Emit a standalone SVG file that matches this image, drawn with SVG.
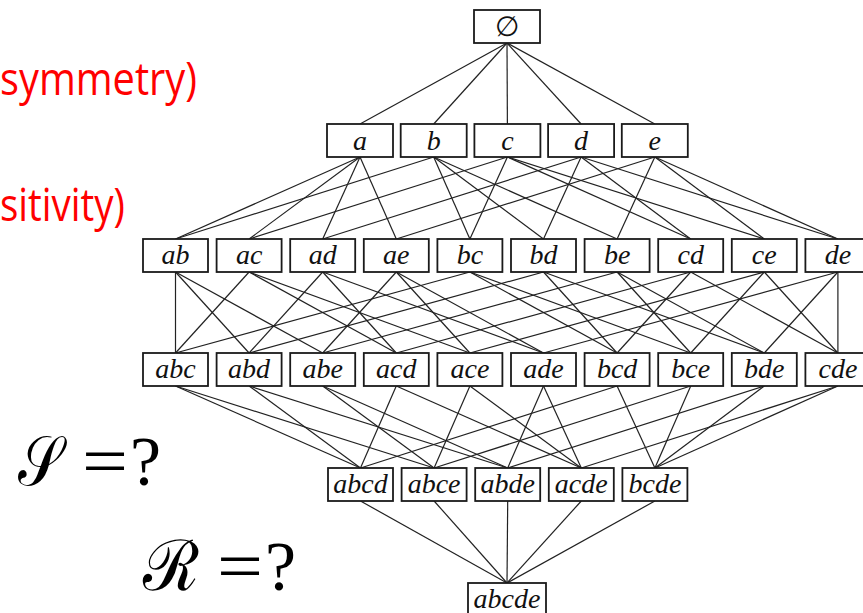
<svg xmlns="http://www.w3.org/2000/svg" width="863" height="613" viewBox="0 0 863 613">
<style>
.box rect{fill:#fff;stroke:#1a1a1a;stroke-width:1.8}
.box text{font-family:"Liberation Serif","DejaVu Serif",serif;font-style:italic;font-size:28px;text-anchor:middle;fill:#111}
#edges line{stroke:#222;stroke-width:1.2}
.red{font-family:"Open Sans","Liberation Sans",sans-serif;font-size:45px;fill:#ff0000}
.math{font-family:"Liberation Serif","DejaVu Serif",serif;font-size:70px;fill:#000}
</style>
<rect width="863" height="613" fill="#fff"/>
<text class="red" x="0" y="95" textLength="197" lengthAdjust="spacingAndGlyphs">symmetry)</text>
<text class="red" x="0" y="221" textLength="125" lengthAdjust="spacingAndGlyphs">sitivity)</text>
<text class="math" x="18" y="485" textLength="44" lengthAdjust="spacingAndGlyphs">𝒮</text>
<text class="math" x="82" y="485" textLength="46" lengthAdjust="spacingAndGlyphs">=</text>
<text class="math" x="130" y="485">?</text>
<text class="math" x="143" y="590" textLength="56" lengthAdjust="spacingAndGlyphs">ℛ</text>
<text class="math" x="217" y="590" textLength="46" lengthAdjust="spacingAndGlyphs">=</text>
<text class="math" x="265" y="590">?</text>
<g id="edges">
<line x1="507" y1="43" x2="360" y2="124"/><line x1="507" y1="43" x2="433.7" y2="124"/><line x1="507" y1="43" x2="507.4" y2="124"/><line x1="507" y1="43" x2="581.1" y2="124"/><line x1="507" y1="43" x2="654.8" y2="124"/>
<line x1="360" y1="157" x2="175.5" y2="239"/><line x1="360" y1="157" x2="249.1" y2="239"/><line x1="360" y1="157" x2="322.7" y2="239"/><line x1="360" y1="157" x2="396.3" y2="239"/>
<line x1="433.7" y1="157" x2="175.5" y2="239"/><line x1="433.7" y1="157" x2="469.9" y2="239"/><line x1="433.7" y1="157" x2="543.5" y2="239"/><line x1="433.7" y1="157" x2="617.1" y2="239"/>
<line x1="507.4" y1="157" x2="249.1" y2="239"/><line x1="507.4" y1="157" x2="469.9" y2="239"/><line x1="507.4" y1="157" x2="690.7" y2="239"/><line x1="507.4" y1="157" x2="764.3" y2="239"/>
<line x1="581.1" y1="157" x2="322.7" y2="239"/><line x1="581.1" y1="157" x2="543.5" y2="239"/><line x1="581.1" y1="157" x2="690.7" y2="239"/><line x1="581.1" y1="157" x2="837.9" y2="239"/>
<line x1="654.8" y1="157" x2="396.3" y2="239"/><line x1="654.8" y1="157" x2="617.1" y2="239"/><line x1="654.8" y1="157" x2="764.3" y2="239"/><line x1="654.8" y1="157" x2="837.9" y2="239"/>
<line x1="175.5" y1="272" x2="175.5" y2="353"/><line x1="249.1" y1="272" x2="175.5" y2="353"/><line x1="469.9" y1="272" x2="175.5" y2="353"/>
<line x1="175.5" y1="272" x2="249.1" y2="353"/><line x1="322.7" y1="272" x2="249.1" y2="353"/><line x1="543.5" y1="272" x2="249.1" y2="353"/>
<line x1="175.5" y1="272" x2="322.7" y2="353"/><line x1="396.3" y1="272" x2="322.7" y2="353"/><line x1="617.1" y1="272" x2="322.7" y2="353"/>
<line x1="249.1" y1="272" x2="396.3" y2="353"/><line x1="322.7" y1="272" x2="396.3" y2="353"/><line x1="690.7" y1="272" x2="396.3" y2="353"/>
<line x1="249.1" y1="272" x2="469.9" y2="353"/><line x1="396.3" y1="272" x2="469.9" y2="353"/><line x1="764.3" y1="272" x2="469.9" y2="353"/>
<line x1="322.7" y1="272" x2="543.5" y2="353"/><line x1="396.3" y1="272" x2="543.5" y2="353"/><line x1="837.9" y1="272" x2="543.5" y2="353"/>
<line x1="469.9" y1="272" x2="617.1" y2="353"/><line x1="543.5" y1="272" x2="617.1" y2="353"/><line x1="690.7" y1="272" x2="617.1" y2="353"/>
<line x1="469.9" y1="272" x2="690.7" y2="353"/><line x1="617.1" y1="272" x2="690.7" y2="353"/><line x1="764.3" y1="272" x2="690.7" y2="353"/>
<line x1="543.5" y1="272" x2="764.3" y2="353"/><line x1="617.1" y1="272" x2="764.3" y2="353"/><line x1="837.9" y1="272" x2="764.3" y2="353"/>
<line x1="690.7" y1="272" x2="837.9" y2="353"/><line x1="764.3" y1="272" x2="837.9" y2="353"/><line x1="837.9" y1="272" x2="837.9" y2="353"/>
<line x1="175.5" y1="386" x2="360.5" y2="468"/><line x1="249.1" y1="386" x2="360.5" y2="468"/><line x1="396.3" y1="386" x2="360.5" y2="468"/><line x1="617.1" y1="386" x2="360.5" y2="468"/>
<line x1="175.5" y1="386" x2="434.1" y2="468"/><line x1="322.7" y1="386" x2="434.1" y2="468"/><line x1="469.9" y1="386" x2="434.1" y2="468"/><line x1="690.7" y1="386" x2="434.1" y2="468"/>
<line x1="249.1" y1="386" x2="507.7" y2="468"/><line x1="322.7" y1="386" x2="507.7" y2="468"/><line x1="543.5" y1="386" x2="507.7" y2="468"/><line x1="764.3" y1="386" x2="507.7" y2="468"/>
<line x1="396.3" y1="386" x2="581.3" y2="468"/><line x1="469.9" y1="386" x2="581.3" y2="468"/><line x1="543.5" y1="386" x2="581.3" y2="468"/><line x1="837.9" y1="386" x2="581.3" y2="468"/>
<line x1="617.1" y1="386" x2="654.9" y2="468"/><line x1="690.7" y1="386" x2="654.9" y2="468"/><line x1="764.3" y1="386" x2="654.9" y2="468"/><line x1="837.9" y1="386" x2="654.9" y2="468"/>
<line x1="360.5" y1="501" x2="507" y2="583"/><line x1="434.1" y1="501" x2="507" y2="583"/><line x1="507.7" y1="501" x2="507" y2="583"/><line x1="581.3" y1="501" x2="507" y2="583"/><line x1="654.9" y1="501" x2="507" y2="583"/>
</g>
<g id="n-empty" class="box"><rect x="474" y="10" width="66" height="33"/><text x="507" y="36" style="font-style:normal">∅</text></g>
<g id="n-a" class="box"><rect x="327" y="124" width="66" height="33"/><text x="360" y="150">a</text></g>
<g id="n-b" class="box"><rect x="400.7" y="124" width="66" height="33"/><text x="433.7" y="150">b</text></g>
<g id="n-c" class="box"><rect x="474.4" y="124" width="66" height="33"/><text x="507.4" y="150">c</text></g>
<g id="n-d" class="box"><rect x="548.1" y="124" width="66" height="33"/><text x="581.1" y="150">d</text></g>
<g id="n-e" class="box"><rect x="621.8" y="124" width="66" height="33"/><text x="654.8" y="150">e</text></g>
<g id="n-ab" class="box"><rect x="143" y="239" width="65" height="33"/><text x="175.5" y="264">ab</text></g>
<g id="n-ac" class="box"><rect x="216.6" y="239" width="65" height="33"/><text x="249.1" y="264">ac</text></g>
<g id="n-ad" class="box"><rect x="290.2" y="239" width="65" height="33"/><text x="322.7" y="264">ad</text></g>
<g id="n-ae" class="box"><rect x="363.8" y="239" width="65" height="33"/><text x="396.3" y="264">ae</text></g>
<g id="n-bc" class="box"><rect x="437.4" y="239" width="65" height="33"/><text x="469.9" y="264">bc</text></g>
<g id="n-bd" class="box"><rect x="511" y="239" width="65" height="33"/><text x="543.5" y="264">bd</text></g>
<g id="n-be" class="box"><rect x="584.6" y="239" width="65" height="33"/><text x="617.1" y="264">be</text></g>
<g id="n-cd" class="box"><rect x="658.2" y="239" width="65" height="33"/><text x="690.7" y="264">cd</text></g>
<g id="n-ce" class="box"><rect x="731.8" y="239" width="65" height="33"/><text x="764.3" y="264">ce</text></g>
<g id="n-de" class="box"><rect x="805.4" y="239" width="65" height="33"/><text x="837.9" y="264">de</text></g>
<g id="n-abc" class="box"><rect x="143" y="353" width="65" height="33"/><text x="175.5" y="378">abc</text></g>
<g id="n-abd" class="box"><rect x="216.6" y="353" width="65" height="33"/><text x="249.1" y="378">abd</text></g>
<g id="n-abe" class="box"><rect x="290.2" y="353" width="65" height="33"/><text x="322.7" y="378">abe</text></g>
<g id="n-acd" class="box"><rect x="363.8" y="353" width="65" height="33"/><text x="396.3" y="378">acd</text></g>
<g id="n-ace" class="box"><rect x="437.4" y="353" width="65" height="33"/><text x="469.9" y="378">ace</text></g>
<g id="n-ade" class="box"><rect x="511" y="353" width="65" height="33"/><text x="543.5" y="378">ade</text></g>
<g id="n-bcd" class="box"><rect x="584.6" y="353" width="65" height="33"/><text x="617.1" y="378">bcd</text></g>
<g id="n-bce" class="box"><rect x="658.2" y="353" width="65" height="33"/><text x="690.7" y="378">bce</text></g>
<g id="n-bde" class="box"><rect x="731.8" y="353" width="65" height="33"/><text x="764.3" y="378">bde</text></g>
<g id="n-cde" class="box"><rect x="805.4" y="353" width="65" height="33"/><text x="837.9" y="378">cde</text></g>
<g id="n-abcd" class="box"><rect x="328" y="468" width="65" height="33"/><text x="360.5" y="493">abcd</text></g>
<g id="n-abce" class="box"><rect x="401.6" y="468" width="65" height="33"/><text x="434.1" y="493">abce</text></g>
<g id="n-abde" class="box"><rect x="475.2" y="468" width="65" height="33"/><text x="507.7" y="493">abde</text></g>
<g id="n-acde" class="box"><rect x="548.8" y="468" width="65" height="33"/><text x="581.3" y="493">acde</text></g>
<g id="n-bcde" class="box"><rect x="622.4" y="468" width="65" height="33"/><text x="654.9" y="493">bcde</text></g>
<g id="n-abcde" class="box"><rect x="468" y="583" width="78" height="33"/><text x="507" y="608">abcde</text></g>
</svg>
